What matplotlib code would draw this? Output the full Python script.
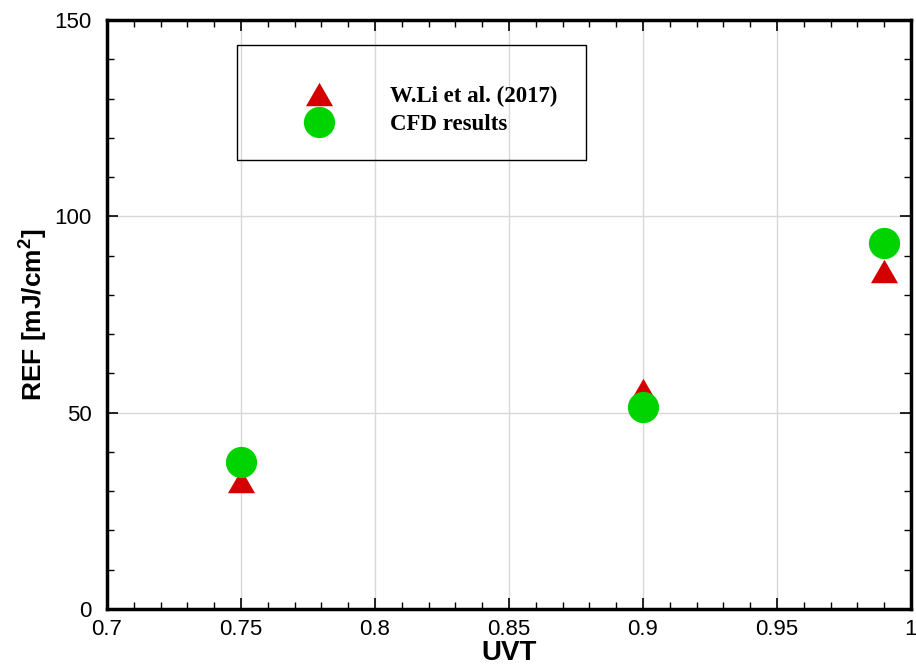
import matplotlib
matplotlib.use('Agg')
import matplotlib.pyplot as plt
from matplotlib.patches import Rectangle
from matplotlib.ticker import MultipleLocator

# Data.
uvt = [0.75, 0.90, 0.99]
ref_li2017 = [32.5, 55.9, 86.2]
ref_cfd = [37.4, 51.5, 93.3]

plt.rcParams['font.family'] = ['Liberation Sans', 'DejaVu Sans']
plt.rcParams['mathtext.fontset'] = 'custom'
plt.rcParams['mathtext.bf'] = 'Liberation Sans:bold'
plt.rcParams['mathtext.rm'] = 'Liberation Sans'

# Equilateral triangle marker (width = markersize).
tri = [(-1, -0.866), (1, -0.866), (0, 0.866), (-1, -0.866)]

fig = plt.figure(figsize=(9.16, 6.69), dpi=100)
ax = fig.add_axes([0.1168, 0.0897, 0.8777, 0.8803])

ax.plot(uvt, ref_li2017, linestyle='none', marker=tri, markersize=19.5,
        color='#d40000', markeredgewidth=0, label='W.Li et al. (2017)', zorder=3)
ax.plot(uvt, ref_cfd, linestyle='none', marker='o', markersize=22.5,
        color='#00d400', markeredgewidth=0, label='CFD results', zorder=4)

ax.set_xlim(0.7, 1.0)
ax.set_ylim(0, 150)
ax.xaxis.set_major_locator(MultipleLocator(0.05))
ax.xaxis.set_minor_locator(MultipleLocator(0.01))
ax.yaxis.set_major_locator(MultipleLocator(50))
ax.yaxis.set_minor_locator(MultipleLocator(10))
ax.xaxis.set_major_formatter(plt.FuncFormatter(lambda v, p: f'{v:g}'))

ax.tick_params(which='both', direction='in', top=True, right=True, labelsize=16)
ax.tick_params(axis='x', pad=7)
ax.tick_params(axis='y', pad=11)
ax.tick_params(which='major', length=8, width=1.2)
ax.tick_params(which='minor', length=5, width=1)
for s in ax.spines.values():
    s.set_linewidth(2.5)
ax.grid(True, which='major', color='#d8d8d8', linewidth=1)
ax.set_axisbelow(True)

ax.set_xlabel('UVT', fontsize=20, fontweight='bold', labelpad=0)
ax.set_ylabel('REF [mJ/cm$^{\\mathbf{2}}$]', fontsize=19, fontweight='bold', labelpad=4)

# Legend frame and entries.
ax.add_patch(Rectangle((0.1617, 0.762), 0.4341, 0.1956, transform=ax.transAxes,
                       fill=False, edgecolor='black', linewidth=1, zorder=5))
leg = ax.legend(loc='center left', bbox_to_anchor=(0.235, 0.847), frameon=False,
                prop={'family': 'Liberation Serif', 'weight': 'bold', 'size': 16.5},
                handletextpad=2.1, labelspacing=0.3, borderpad=0, borderaxespad=0,
                numpoints=1)

fig.savefig('out.png', dpi=100)
